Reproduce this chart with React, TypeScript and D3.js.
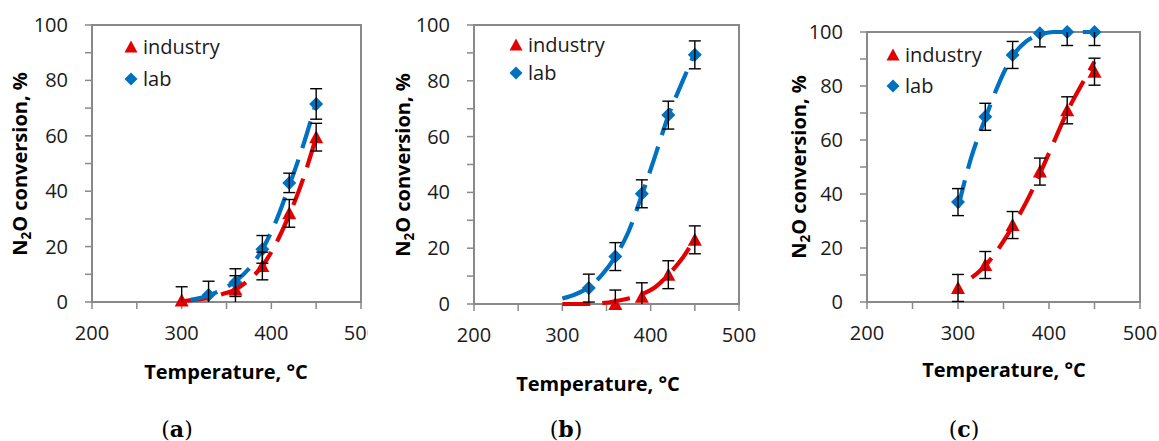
import React from "react";
import * as d3 from "d3";

// ---------- data ----------
const xTicks = [200, 250, 300, 350, 400, 450, 500];
const xTickLabels = ["200", "300", "400", "500"];
const yTicks = [0, 10, 20, 30, 40, 50, 60, 70, 80, 90, 100];
const yTickLabels = ["0", "20", "40", "60", "80", "100"];
const seriesNames = ["industry", "lab"];

// panel (a)
const aIndT = [300, 360, 390, 420, 450];
const aIndV = [0.5, 4.5, 13, 32, 59.5];
const aIndErr = [5, 5, 5, 5, 5];
const aIndFitT = [300, 315, 330, 345, 360, 375, 390, 405, 420, 435, 450];
const aIndFitV = [0.3, 0.8, 1.5, 2.8, 4.5, 8, 13, 21, 31.5, 44, 59.5];
const aLabT = [330, 360, 390, 420, 450];
const aLabV = [2.5, 7, 19, 43, 71.5];
const aLabErr = [5, 5, 5, 3.5, 5.5];
const aLabFitT = [310, 330, 345, 360, 375, 390, 405, 420, 435, 450];
const aLabFitV = [0.8, 2.3, 4.5, 7.5, 12, 19, 29, 42, 56, 72];

// panel (b)
const bIndT = [360, 390, 420, 450];
const bIndV = [0, 2.6, 10.5, 23];
const bIndErr = [5, 5, 5, 5];
const bIndFitT = [300, 315, 330, 345, 360, 375, 390, 405, 420, 435, 450];
const bIndFitV = [0, 0, 0, 0.3, 1, 2, 3.5, 6, 10.5, 16, 23.5];
const bLabT = [330, 360, 390, 420, 450];
const bLabV = [5.7, 17, 39.5, 67.7, 89.3];
const bLabErr = [5, 5, 5, 5, 5];
const bLabFitT = [300, 315, 330, 345, 360, 375, 390, 405, 420, 435, 450];
const bLabFitV = [2, 3.5, 6, 10.5, 17, 26, 39, 53, 67.5, 79, 90];

// panel (c)
const cIndT = [300, 330, 360, 390, 420, 450];
const cIndV = [5.2, 13.7, 28.5, 48.3, 71, 85.3];
const cIndErr = [5, 5, 5, 5, 5, 5];
const cIndFitT = [315, 330, 345, 360, 375, 390, 405, 420, 435, 450];
const cIndFitV = [9, 13.5, 20, 28, 37, 47.5, 59, 70.5, 80, 89];
const cLabT = [300, 330, 360, 390, 420, 450];
const cLabV = [37, 68.6, 91.5, 99.5, 100, 100];
const cLabErr = [5, 5, 5, 5, 5, 5];
const cLabFitT = [300, 315, 330, 345, 360, 375, 390, 405, 420, 435, 450];
const cLabFitV = [35, 54, 68, 81, 91, 96.5, 99, 100, 100, 100, 100];

const panelTags = ["a", "b", "c"];

// ---------- styles ----------
const RED = "#e30000";
const BLUE = "#0070c0";
const AXIS = "#898989";
const FONT = "'Open Sans', sans-serif";

type Series = { t: number[]; v: number[]; err: number[]; fitT: number[]; fitV: number[] };

const panels = [
  {
    tag: panelTags[0],
    box: { l: 92, r: 361, t: 25, b: 302 },
    legend: { x: 131, y: 47, gap: 32 },
    xTitleX: 226, xTitleY: 379,
    yTitleX: 27, yTitleY: 164,
    tagX: 177,
    clipRight: 368,
    ind: { t: aIndT, v: aIndV, err: aIndErr, fitT: aIndFitT, fitV: aIndFitV },
    lab: { t: aLabT, v: aLabV, err: aLabErr, fitT: aLabFitT, fitV: aLabFitV },
  },
  {
    tag: panelTags[1],
    box: { l: 474, r: 739, t: 25, b: 304 },
    legend: { x: 516, y: 45, gap: 28 },
    xTitleX: 598, xTitleY: 391,
    yTitleX: 410, yTitleY: 165,
    tagX: 566,
    clipRight: 1159,
    ind: { t: bIndT, v: bIndV, err: bIndErr, fitT: bIndFitT, fitV: bIndFitV },
    lab: { t: bLabT, v: bLabV, err: bLabErr, fitT: bLabFitT, fitV: bLabFitV },
  },
  {
    tag: panelTags[2],
    box: { l: 867, r: 1140, t: 32, b: 302 },
    legend: { x: 893, y: 55, gap: 31 },
    xTitleX: 1004, xTitleY: 377,
    yTitleX: 806, yTitleY: 167,
    tagX: 964,
    clipRight: 1159,
    ind: { t: cIndT, v: cIndV, err: cIndErr, fitT: cIndFitT, fitV: cIndFitV },
    lab: { t: cLabT, v: cLabV, err: cLabErr, fitT: cLabFitT, fitV: cLabFitV },
  },
];

const triPath = (x: number, y: number, s = 7) =>
  `M${x},${y - s} L${x + s},${y + s * 0.85} L${x - s},${y + s * 0.85} Z`;
const diaPath = (x: number, y: number, s = 7) =>
  `M${x},${y - s} L${x + s},${y} L${x},${y + s} L${x - s},${y} Z`;

function Panel({ p, idx }: { p: (typeof panels)[number]; idx: number }) {
  const { box } = p;
  const x = d3.scaleLinear().domain([200, 500]).range([box.l, box.r]);
  const y = d3.scaleLinear().domain([0, 100]).range([box.b, box.t]);
  const line = d3
    .line<[number, number]>()
    .x((d) => x(d[0]))
    .y((d) => y(d[1]))
    .curve(d3.curveMonotoneX);
  const clamp = (v: number) => Math.max(0, Math.min(100, v));

  const drawFit = (s: Series, color: string) => (
    <path
      d={line(s.fitT.map((t, i) => [t, s.fitV[i]] as [number, number])) || ""}
      fill="none"
      stroke={color}
      strokeWidth={4.2}
      strokeDasharray="28 12"
    />
  );
  const drawErr = (s: Series) =>
    s.t.map((t, i) => {
      const cx = x(t);
      const y1 = y(clamp(s.v[i] + s.err[i]));
      const y0 = y(clamp(s.v[i] - s.err[i]));
      return (
        <g key={i} stroke="#000" strokeWidth={1.4}>
          <line x1={cx} x2={cx} y1={y0} y2={y1} />
          {s.v[i] + s.err[i] <= 100 && <line x1={cx - 6} x2={cx + 6} y1={y1} y2={y1} />}
          {s.v[i] - s.err[i] >= 0 && <line x1={cx - 6} x2={cx + 6} y1={y0} y2={y0} />}
        </g>
      );
    });

  const yLabelsVals = yTickLabels.map(Number);
  const xLabelsVals = xTickLabels.map(Number);

  return (
    <g>
      <defs>
        <clipPath id={`clip${idx}`}>
          <rect x={0} y={0} width={p.clipRight} height={441} />
        </clipPath>
      </defs>
      <rect x={box.l} y={box.t} width={box.r - box.l} height={box.b - box.t} fill="none" stroke={AXIS} strokeWidth={2} />
      {yTicks.map((v) => (
        <line key={v} x1={box.l - 7} x2={box.l} y1={y(v)} y2={y(v)} stroke={AXIS} strokeWidth={1.5} />
      ))}
      {xTicks.map((v) => (
        <line key={v} x1={x(v)} x2={x(v)} y1={box.b} y2={box.b + 7} stroke={AXIS} strokeWidth={1.5} />
      ))}
      {yLabelsVals.map((v, i) => (
        <text key={v} x={box.l - 24} y={y(v) + 7} textAnchor="end" fontFamily={FONT} fontSize={20} fill="#1a1a1a">
          {yTickLabels[i]}
        </text>
      ))}
      <g clipPath={`url(#clip${idx})`}>
        {xLabelsVals.map((v, i) => (
          <text key={v} x={x(v)} y={box.b + 38} textAnchor="middle" fontFamily={FONT} fontSize={20} fill="#1a1a1a">
            {xTickLabels[i]}
          </text>
        ))}
      </g>
      {p.ind.t.map((t, i) => (
        <path key={"i" + i} d={triPath(x(t), y(p.ind.v[i]))} fill={RED} />
      ))}
      {p.lab.t.map((t, i) => (
        <path key={"l" + i} d={diaPath(x(t), y(p.lab.v[i]))} fill={BLUE} />
      ))}
      {drawFit(p.ind, RED)}
      {drawFit(p.lab, BLUE)}
      {drawErr(p.ind)}
      {drawErr(p.lab)}
      <path d={triPath(p.legend.x, p.legend.y, 6.5)} fill={RED} />
      <text x={p.legend.x + 12} y={p.legend.y + 7} fontFamily={FONT} fontSize={20} fill="#1a1a1a">
        {seriesNames[0]}
      </text>
      <path d={diaPath(p.legend.x, p.legend.y + p.legend.gap, 6.5)} fill={BLUE} />
      <text x={p.legend.x + 12} y={p.legend.y + p.legend.gap + 7} fontFamily={FONT} fontSize={20} fill="#1a1a1a">
        {seriesNames[1]}
      </text>
      <text x={p.xTitleX} y={p.xTitleY} textAnchor="middle" fontFamily={FONT} fontWeight="bold" fontSize={20} fill="#000">
        Temperature, °C
      </text>
      <text
        transform={`translate(${p.yTitleX},${p.yTitleY}) rotate(-90)`}
        textAnchor="middle"
        fontFamily={FONT}
        fontWeight="bold"
        fontSize={20}
        fill="#000"
      >
        N<tspan fontSize={13.5} dy={4}>2</tspan>
        <tspan dy={-4}>O conversion, %</tspan>
      </text>
      <text x={p.tagX} y={437} textAnchor="middle" fontFamily="'DejaVu Serif', serif" fontSize={22} fill="#000">
        (<tspan fontWeight="bold">{p.tag}</tspan>)
      </text>
    </g>
  );
}

export default function App() {
  return (
    <svg width={1159} height={441} style={{ position: "absolute", left: 0, top: 0, background: "#fff" }}>
      <rect width={1159} height={441} fill="#fff" />
      {panels.map((p, i) => (
        <Panel key={i} p={p} idx={i} />
      ))}
    </svg>
  );
}
